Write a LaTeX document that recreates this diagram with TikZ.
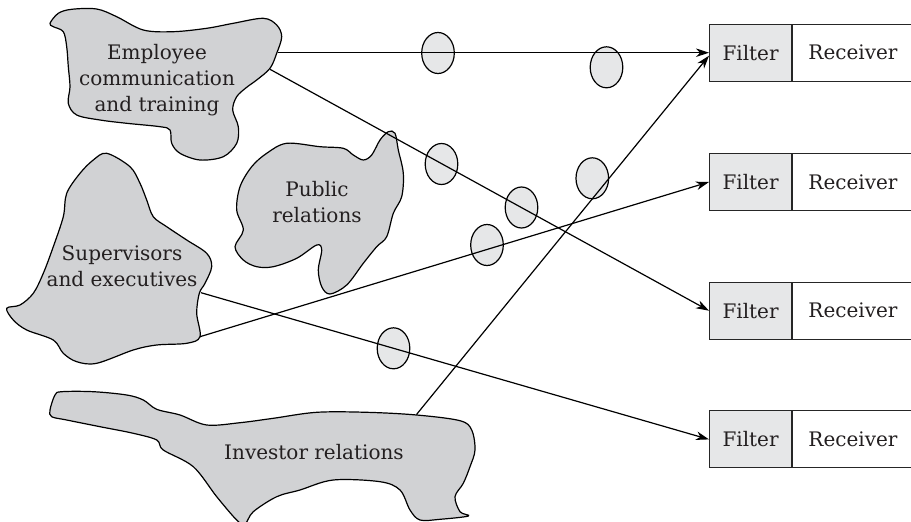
\documentclass[tikz,border=0pt]{standalone}
\usepackage{fontspec}
\setmainfont{DejaVu Serif}
\usetikzlibrary{arrows.meta,shapes.geometric}
\definecolor{blobgray}{HTML}{D1D2D4}
\definecolor{ellgray}{HTML}{E6E7E8}
\definecolor{txt}{HTML}{231F20}
\tikzset{
  blob/.style={draw=black, fill=blobgray, line width=1.2pt},
  msg/.style={ellipse, draw=black, fill=ellgray, line width=1.2pt, minimum width=32.6pt, minimum height=41pt, inner sep=0pt},
  lbl/.style={text=txt, align=center, font=\fontsize{20}{26}\selectfont, inner sep=0pt},
  filterbox/.style={draw=black!85, fill=ellgray, line width=1.1pt, minimum width=82pt, minimum height=57pt, inner sep=0pt, anchor=west, text=txt, font=\fontsize{20}{26}\selectfont},
  recvbox/.style={draw=black!85, fill=white, line width=1.1pt, minimum width=140pt, minimum height=57pt, inner sep=0pt, anchor=west},
  conn/.style={draw=black, line width=1.2pt, -{Stealth[length=13pt,width=8.5pt,inset=4pt]}}
}
\begin{document}
\begin{tikzpicture}[x=1pt,y=-1pt]
\useasboundingbox (0,0) rectangle (911,522);
\clip (0,0) rectangle (911,522);
% blobs
\draw[blob] plot[smooth cycle, tension=0.55] coordinates {(50,23.3) (58.3,13.3) (71.7,9.3) (96.7,9) (116.7,16.7) (143.3,30) (173.3,31.7) (206.7,28.3) (233.3,23.3) (263.3,18.3) (276.7,25) (281.7,36.7) (276.7,53.3) (270,68.3) (256.7,80) (246.7,87.3) (236.7,96.7) (232.7,110) (238.3,126.7) (236.7,143.3) (223.3,156.7) (200,160) (180,153.3) (171.7,143.3) (170,130) (160,126.7) (126.7,123.3) (100,120) (76.7,115) (68.3,103.3) (70,86.7) (68.3,66.7) (66.7,46.7) (63.3,31.7) (53.3,26.7)};
\draw[blob] plot[smooth cycle, tension=0.55] coordinates {(240,186.7) (236.7,210) (243.3,230) (235,246.7) (243.3,260) (256.7,266.7) (273.3,266.7) (296.7,258.3) (316.7,245) (321.7,250) (318.3,270) (321.7,286.7) (330,294) (346.7,285) (363.3,263.3) (376.7,246.7) (386.7,236.7) (393.3,213.3) (401.7,196.7) (403.3,173.3) (398.3,150) (395,133.3) (388.3,131.7) (380,140) (371.7,155) (363.3,160) (353.3,155) (343.3,148.3) (320,146.7) (286.7,143.3) (266.7,153.3) (251.7,166.7)};
\draw[blob] plot[smooth cycle, tension=0.55] coordinates {(106.7,153.3) (130,166.7) (140,183.3) (146.7,200) (153.3,216.7) (166.7,226.7) (186.7,240) (206.7,253.3) (211.7,266.7) (205,283.3) (199.3,293.3) (196.7,313.3) (200,336.7) (186.7,343.3) (156.7,345) (133.3,350) (96.7,363.3) (76.7,361.7) (63.3,353.3) (53.3,340) (26.7,330) (13.3,320) (6.7,308.3) (20,305) (33.3,293.3) (43.3,273.3) (53.3,246.7) (63.3,216.7) (66.7,193.3) (80,173.3) (93.3,160)};
\draw[blob] plot[smooth cycle, tension=0.55] coordinates {(50,410) (55,395) (61.7,391.7) (93.3,391.7) (126.7,395) (143.3,400) (156.7,409.3) (180,415) (206.7,425) (240,422.7) (273.3,418.3) (316.7,412.3) (366.7,412.3) (416.7,415) (460,420.7) (471.7,430) (475,450) (470,466.7) (463.3,483.3) (455,496.7) (460,511.7) (468.3,516) (440,519.3) (420,520) (410,510) (400,490) (380,481.7) (333.3,480) (300,490) (276.7,496.7) (253.3,511.7) (245,524) (236.7,520) (216.7,496.7) (193.3,466.7) (163.3,450) (156.7,440) (133.3,433.3) (100,426.7) (66.7,420) (51.7,416.7)};
% labels
\node[lbl] (emp) at (157,80) {Employee\\communication\\and training};
\node[lbl] (pub) at (317,202) {Public\\relations};
\node[lbl] (sup) at (122,266) {Supervisors\\and executives};
\node[lbl] (inv) at (314,452) {Investor relations};
% boxes
\foreach \i/\y in {1/52.7,2/182,3/310.7,4/439.4}{
  \node[filterbox] (f\i) at (709,\y) {Filter};
  \node[recvbox] (r\i) at (f\i.east) {};
  \node[text=txt, font=\fontsize{20}{26}\selectfont, inner sep=0pt] (rt\i) at (853,\y) {Receiver};
}
% messages
\node[msg] (m1) at (438,53) {};
\node[msg] (m2) at (606.5,67.3) {};
\node[msg] (m3) at (441.5,164) {};
\node[msg] (m4) at (521.5,207.5) {};
\node[msg] (m5) at (592.3,178.3) {};
\node[msg] (m6) at (487,245) {};
\node[msg] (m7) at (393.5,348.3) {};
% connector start points
\coordinate (s1) at (278,52.7);
\coordinate (s2) at (270,69.3);
\coordinate (s3) at (416.5,414.5);
\coordinate (s4) at (200,336.7);
\coordinate (s5) at (201,292.7);
\draw[conn] (s1) -- (f1.west);
\draw[conn] (s2) -- (f3.west);
\draw[conn] (s3) -- ([yshift=-3pt]f1.west);
\draw[conn] (s4) -- (f2.west);
\draw[conn] (s5) -- (f4.west);
\end{tikzpicture}
\end{document}
